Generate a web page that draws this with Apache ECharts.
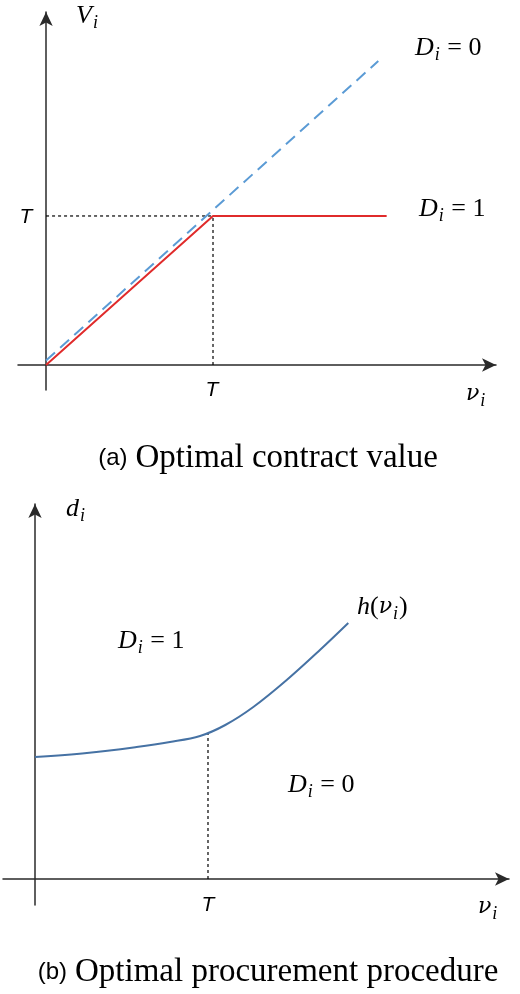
<!DOCTYPE html>
<html lang="en">

<head>
    <meta charset="UTF-8">
    <title>Optimal contract value / procurement procedure</title>
    <script src="https://cdn.jsdelivr.net/npm/echarts@6/dist/echarts.min.js"></script>
    <style>
        * {
            padding: 0;
            margin: 0;
        }

        body {
            background: #fff;
        }

        #chart {
            width: 520px;
            height: 994px;
        }
    </style>
</head>

<body>
    <div id="chart"></div>
    <script type="text/javascript">
        // (a) contract value, T = 1 on both axes
        const thresholdT = 1;
        const redX = [0, 1, 2.04];
        const redV = [0, 1, 1];
        const blueX = [0, 1.99];
        const blueV = [0.03, 2.04];
        // (b) procurement threshold curve h(v)
        const curveX = [0, 0.30, 0.587, 0.78, 0.954, 1.1, 1.262, 1.455, 1.647, 1.811];
        const curveD = [1.22, 1.26, 1.32, 1.37, 1.43, 1.54, 1.72, 1.99, 2.29, 2.56];
        const curveAtT = 1.46;
        const tickLabels = ['T'];

        function pairs(xs, ys) {
            let out = [];
            for (let i = 0; i < xs.length; i++) {
                out.push([xs[i], ys[i]]);
            }
            return out;
        }

        var myChart = echarts.init(document.getElementById('chart'));

        const mathRich = {
            m: { fontFamily: 'Liberation Serif', fontStyle: 'italic', fontSize: 26, lineHeight: 30, color: '#111' },
            n: { fontFamily: 'DejaVu Serif', fontStyle: 'italic', fontSize: 22, lineHeight: 30, color: '#111' },
            r: { fontFamily: 'Liberation Serif', fontSize: 26, lineHeight: 30, color: '#111' },
            s: { fontFamily: 'Liberation Serif', fontStyle: 'italic', fontSize: 18, lineHeight: 18, padding: [14, 1, 0, 1], color: '#111' },
            t: { fontFamily: 'Liberation Sans', fontStyle: 'italic', fontSize: 21, lineHeight: 26, color: '#111' }
        };
        const capRich = {
            a: { fontFamily: 'Liberation Sans', fontSize: 24, lineHeight: 40, color: '#111' },
            b: { fontFamily: 'Liberation Serif', fontSize: 33, lineHeight: 40, color: '#111', padding: [0, 0, 0, 8] }
        };

        function mathText(x, y, str, align) {
            return {
                type: 'text', x: x, y: y,
                style: { text: str, rich: mathRich, align: align || 'left', verticalAlign: 'middle' }
            };
        }

        function capText(x, y, str) {
            return {
                type: 'text', x: x, y: y,
                style: { text: str, rich: capRich, align: 'center', verticalAlign: 'middle' }
            };
        }

        // the T marks next to the axes
        function tickText(x, y) {
            return mathText(x, y, '{t|' + tickLabels[0] + '}', 'center');
        }

        const axisLine = {
            show: true,
            onZero: true,
            symbol: ['none', 'arrow'],
            symbolSize: [10, 14],
            lineStyle: { color: '#2a2a2a', width: 1.5 }
        };
        const plainAxis = {
            axisLine: axisLine,
            axisTick: { show: false },
            splitLine: { show: false },
            axisLabel: { show: false }
        };

        const dashed = { color: '#000', width: 1.2, type: [3, 3] };

        option = {
            animation: false,
            grid: [
                { left: 18, top: 12, width: 478, height: 378, outerBoundsMode: 'none', containLabel: false },
                { left: 3, top: 504, width: 506, height: 401, outerBoundsMode: 'none', containLabel: false }
            ],
            xAxis: [
                Object.assign({ type: 'value', gridIndex: 0, min: -0.168, max: 2.695 }, plainAxis),
                Object.assign({ type: 'value', gridIndex: 1, min: -0.185, max: 2.74 }, plainAxis)
            ],
            yAxis: [
                Object.assign({ type: 'value', gridIndex: 0, min: -0.168, max: 2.369 }, plainAxis),
                Object.assign({ type: 'value', gridIndex: 1, min: -0.26, max: 3.75 }, plainAxis)
            ],
            series: [
                // guide lines at T
                {
                    type: 'line', xAxisIndex: 0, yAxisIndex: 0, symbol: 'none',
                    data: [[0, thresholdT], [thresholdT, thresholdT]], lineStyle: dashed
                },
                {
                    type: 'line', xAxisIndex: 0, yAxisIndex: 0, symbol: 'none',
                    data: [[thresholdT, 0], [thresholdT, thresholdT]], lineStyle: dashed
                },
                {
                    type: 'line', xAxisIndex: 0, yAxisIndex: 0, symbol: 'none',
                    data: pairs(blueX, blueV),
                    lineStyle: { color: '#5b9bd5', width: 2, type: [12, 7] }
                },
                {
                    type: 'line', xAxisIndex: 0, yAxisIndex: 0, symbol: 'none',
                    data: pairs(redX, redV),
                    lineStyle: { color: '#e02b2b', width: 2 }
                },
                {
                    type: 'line', xAxisIndex: 1, yAxisIndex: 1, symbol: 'none',
                    data: [[thresholdT, 0], [thresholdT, curveAtT]],
                    lineStyle: dashed
                },
                {
                    type: 'line', xAxisIndex: 1, yAxisIndex: 1, symbol: 'none',
                    smooth: 0.35,
                    data: pairs(curveX, curveD),
                    lineStyle: { color: '#4672a4', width: 2 }
                }
            ],
            graphic: [
                tickText(26, 217),
                tickText(212, 390),
                tickText(208, 905),
                mathText(76, 16, '{m|V}{s|i}'),
                mathText(415, 48, '{m|D}{s|i}{r| = 0}'),
                mathText(419, 209, '{m|D}{s|i}{r| = 1}'),
                mathText(466, 394, '{n|ν}{s|i}'),
                capText(268, 458, '{a|(a)}{b|Optimal contract value}'),
                mathText(66, 509, '{m|d}{s|i}'),
                mathText(357, 607, '{m|h}{r|(}{n|ν}{s|i}{r|)}'),
                mathText(118, 641, '{m|D}{s|i}{r| = 1}'),
                mathText(288, 785, '{m|D}{s|i}{r| = 0}'),
                mathText(478, 907, '{n|ν}{s|i}'),
                capText(268, 972, '{a|(b)}{b|Optimal procurement procedure}')
            ]
        };

        myChart.setOption(option);
    </script>
</body>

</html>
